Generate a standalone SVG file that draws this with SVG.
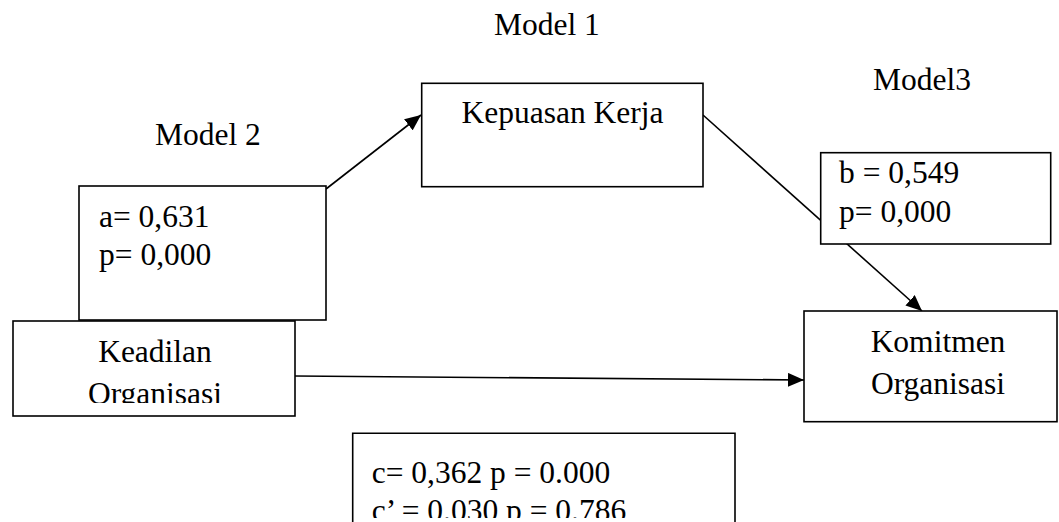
<svg xmlns="http://www.w3.org/2000/svg" width="1059" height="522" viewBox="0 0 1059 522">
<style>
.box{fill:#fff;stroke:#000;stroke-width:1.6}
.t{font-family:"Liberation Serif","Times New Roman",serif;font-size:31.5px;fill:#000}
.c{text-anchor:middle}
.edge{fill:none;stroke:#000;stroke-width:1.6}
</style>
<defs>
<marker id="ah" markerUnits="userSpaceOnUse" markerWidth="16" markerHeight="14" refX="16" refY="7" orient="auto">
<path d="M0,0 L16,7 L0,14 z" fill="#000"/>
</marker>
<clipPath id="clipK"><rect x="13" y="321" width="282" height="82"/></clipPath>
<clipPath id="clipC"><rect x="352" y="433" width="383" height="85"/></clipPath>
</defs>
<rect width="1059" height="522" fill="#fff"/>
<g id="labels">
<text class="t" x="494" y="35">Model 1</text>
<text class="t" x="155" y="145">Model 2</text>
<text class="t" x="873" y="90">Model3</text>
</g>
<g id="connectors">
<line class="edge" x1="326" y1="189" x2="421" y2="115" marker-end="url(#ah)"/>
<line class="edge" x1="703" y1="115" x2="922" y2="311" marker-end="url(#ah)"/>
<line class="edge" x1="295" y1="376" x2="804" y2="380" marker-end="url(#ah)"/>
</g>
<g id="kepuasan">
<rect class="box" x="421.7" y="83.3" width="281.3" height="103.4"/>
<text class="t c" x="562.5" y="123">Kepuasan Kerja</text>
</g>
<g id="path-a">
<rect class="box" x="79" y="186" width="247" height="134"/>
<text class="t" x="99" y="227">a= 0,631</text>
<text class="t" x="99" y="265">p= 0,000</text>
</g>
<g id="keadilan">
<rect class="box" x="13" y="321" width="282" height="95"/>
<g clip-path="url(#clipK)">
<text class="t c" x="155" y="362">Keadilan</text>
<text class="t c" x="155" y="404">Organisasi</text>
</g>
</g>
<g id="path-b">
<rect class="box" x="820.7" y="152.7" width="230" height="91.3"/>
<text class="t" x="839" y="183">b = 0,549</text>
<text class="t" x="839" y="222">p= 0,000</text>
</g>
<g id="komitmen">
<rect class="box" x="804" y="311" width="253" height="110.7"/>
<text class="t c" x="938" y="352">Komitmen</text>
<text class="t c" x="938" y="394">Organisasi</text>
</g>
<g id="path-c">
<path class="edge" d="M352.7,523 V433.3 H735 V523"/>
<g clip-path="url(#clipC)">
<text class="t" x="371.7" y="483">c= 0,362 p = 0.000</text>
<text class="t" x="371.7" y="521">c’ = 0.030 p = 0.786</text>
</g>
</g>
</svg>
